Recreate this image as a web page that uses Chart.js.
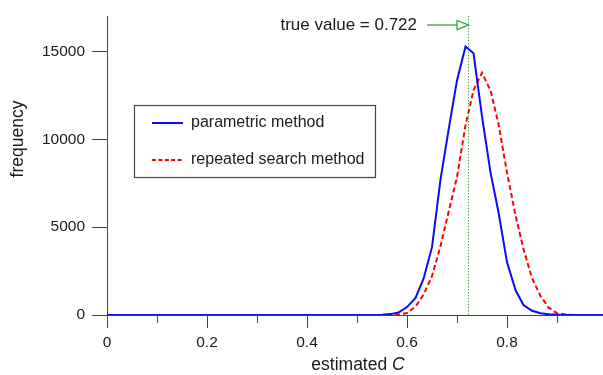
<!DOCTYPE html>
<html>
<head>
<meta charset="utf-8">
<script src="https://cdn.jsdelivr.net/npm/chart.js@4/dist/chart.umd.min.js"></script>
<style>
  body { margin: 0; background: #fff; }
  #box { width: 603px; height: 375px; }
</style>
</head>
<body>
<div id="box"><canvas id="grafico"></canvas></div>
<script>
// valores (bins de 1/60)
var estimadoC = [0, 0.55, 0.567, 0.583, 0.6, 0.617, 0.633, 0.65, 0.667, 0.683, 0.7, 0.717, 0.733,
                 0.75, 0.767, 0.783, 0.8, 0.817, 0.833, 0.85, 0.867, 0.883, 0.9, 0.917, 0.933, 0.992];
var parametrico = [0, 15, 50, 140, 450, 970, 2050, 3860, 7700, 10510, 13350, 15280, 14900,
                   11300, 8120, 5850, 3010, 1420, 570, 240, 100, 40, 15, 0, 0, 0];
var buscaRepetida = [0, 0, 5, 20, 110, 480, 1160, 2220, 3920, 5850, 7850, 10800, 12800,
                     13790, 12780, 10880, 8100, 5680, 3750, 2100, 1080, 430, 100, 30, 0, 0];
var ticksX = [0, 0.2, 0.4, 0.6, 0.8];
var ticksXMenores = [0.1, 0.3, 0.5, 0.7, 0.9];
var ticksY = [0, 5000, 10000, 15000];
var valorVerdadeiro = 0.722;

var _corEixo = "#444";
var _corTexto = "#1a1a1a";
var _fonte = "'Liberation Sans', Arial, sans-serif";

function montaPontos(_valores) {
    var _pontos = new Array();
    $each(_valores, function (idx, item) {
        _pontos.push({ x: estimadoC[idx], y: item });
    });
    return _pontos;
}

function $each(_lista, fn) {
    for (var i = 0; i < _lista.length; i++) fn(i, _lista[i]);
}

// desenha ticks menores, anotacao, legenda e titulos dos eixos
var extras = {
    id: "extras",
    afterDatasetsDraw: function (chart) {
        var ctx = chart.ctx;
        var sx = chart.scales.x, sy = chart.scales.y;
        var area = chart.chartArea;

        ctx.save();
        ctx.strokeStyle = _corEixo;
        ctx.lineWidth = 1;
        $each(ticksXMenores, function (idx, v) {
            var px = Math.round(sx.getPixelForValue(v)) + 0.5;
            ctx.beginPath();
            ctx.moveTo(px, area.bottom);
            ctx.lineTo(px, area.bottom + 8);
            ctx.stroke();
        });

        // linha do valor verdadeiro
        var xv = Math.round(sx.getPixelForValue(valorVerdadeiro)) + 0.5;
        ctx.strokeStyle = "#008000";
        ctx.setLineDash([1, 2]);
        ctx.beginPath();
        ctx.moveTo(xv, area.top);
        ctx.lineTo(xv, area.bottom);
        ctx.stroke();
        ctx.setLineDash([]);

        // seta
        ctx.strokeStyle = "#2a9a2a";
        ctx.lineWidth = 1.2;
        ctx.beginPath();
        ctx.moveTo(427, 25);
        ctx.lineTo(457, 25);
        ctx.stroke();
        ctx.beginPath();
        ctx.moveTo(457, 20.5);
        ctx.lineTo(xv, 25);
        ctx.lineTo(457, 29.5);
        ctx.closePath();
        ctx.stroke();

        ctx.fillStyle = _corTexto;
        ctx.font = "17px " + _fonte;
        ctx.textAlign = "right";
        ctx.textBaseline = "middle";
        ctx.fillText("true value = " + valorVerdadeiro, 417, 25);

        // legenda
        ctx.font = "16px " + _fonte;
        ctx.fillStyle = "#fff";
        ctx.fillRect(134, 105, 242, 73);
        ctx.strokeStyle = _corEixo;
        ctx.lineWidth = 1.2;
        ctx.strokeRect(134.5, 105.5, 241, 72);

        ctx.lineWidth = 2;
        ctx.strokeStyle = "#0a0aff";
        ctx.beginPath();
        ctx.moveTo(152, 123);
        ctx.lineTo(183, 123);
        ctx.stroke();
        ctx.strokeStyle = "#ff0000";
        ctx.setLineDash([4, 2.4]);
        ctx.beginPath();
        ctx.moveTo(152, 160);
        ctx.lineTo(183, 160);
        ctx.stroke();
        ctx.setLineDash([]);

        ctx.fillStyle = _corTexto;
        ctx.textAlign = "left";
        ctx.fillText("parametric method", 191, 123);
        ctx.fillText("repeated search method", 191, 160);

        // titulos dos eixos
        var t1 = "estimated ";
        ctx.font = "17.5px " + _fonte;
        var w1 = ctx.measureText(t1).width;
        ctx.font = "italic 17.5px " + _fonte;
        var w2 = ctx.measureText("C").width;
        var x0 = 358 - (w1 + w2) / 2;
        ctx.font = "17.5px " + _fonte;
        ctx.fillText(t1, x0, 365);
        ctx.font = "italic 17.5px " + _fonte;
        ctx.fillText("C", x0 + w1, 365);

        ctx.font = "17.5px " + _fonte;
        ctx.translate(18.5, 139);
        ctx.rotate(-Math.PI / 2);
        ctx.textAlign = "center";
        ctx.fillText("frequency", 0, 0);
        ctx.restore();
    }
};

new Chart(document.getElementById("grafico"), {
    type: "scatter",
    data: {
        datasets: [
            {
                label: "parametric method",
                data: montaPontos(parametrico),
                showLine: true,
                borderColor: "#0a0aff",
                borderWidth: 2,
                pointRadius: 0,
                tension: 0
            },
            {
                label: "repeated search method",
                data: montaPontos(buscaRepetida),
                showLine: true,
                borderColor: "#ff0000",
                borderWidth: 2,
                borderDash: [5, 3],
                pointRadius: 0,
                tension: 0
            }
        ]
    },
    options: {
        responsive: true,
        maintainAspectRatio: false,
        animation: false,
        layout: { padding: { top: 15, right: 0, left: 0, bottom: 0 } },
        plugins: { legend: { display: false }, tooltip: { enabled: false } },
        scales: {
            x: {
                type: "linear",
                min: 0,
                max: 0.992,
                afterBuildTicks: function (scale) {
                    scale.ticks = ticksX.map(function (v) { return { value: v }; });
                },
                afterFit: function (scale) { scale.height = 60; },
                ticks: {
                    color: _corTexto,
                    font: { family: _fonte, size: 15.5 },
                    padding: 5,
                    maxRotation: 0,
                    callback: function (v) { return String(v); }
                },
                grid: { drawOnChartArea: false, tickLength: 13, tickColor: _corEixo },
                border: { color: _corEixo, width: 1 }
            },
            y: {
                min: 0,
                max: 17000,
                afterBuildTicks: function (scale) {
                    scale.ticks = ticksY.map(function (v) { return { value: v }; });
                },
                afterFit: function (scale) { scale.width = 107; },
                ticks: {
                    color: _corTexto,
                    font: { family: _fonte, size: 15.5 },
                    padding: 7,
                    callback: function (v) { return String(v); }
                },
                grid: { drawOnChartArea: false, tickLength: 15, tickColor: _corEixo },
                border: { color: _corEixo, width: 1 }
            }
        }
    },
    plugins: [extras]
});
</script>
</body>
</html>
